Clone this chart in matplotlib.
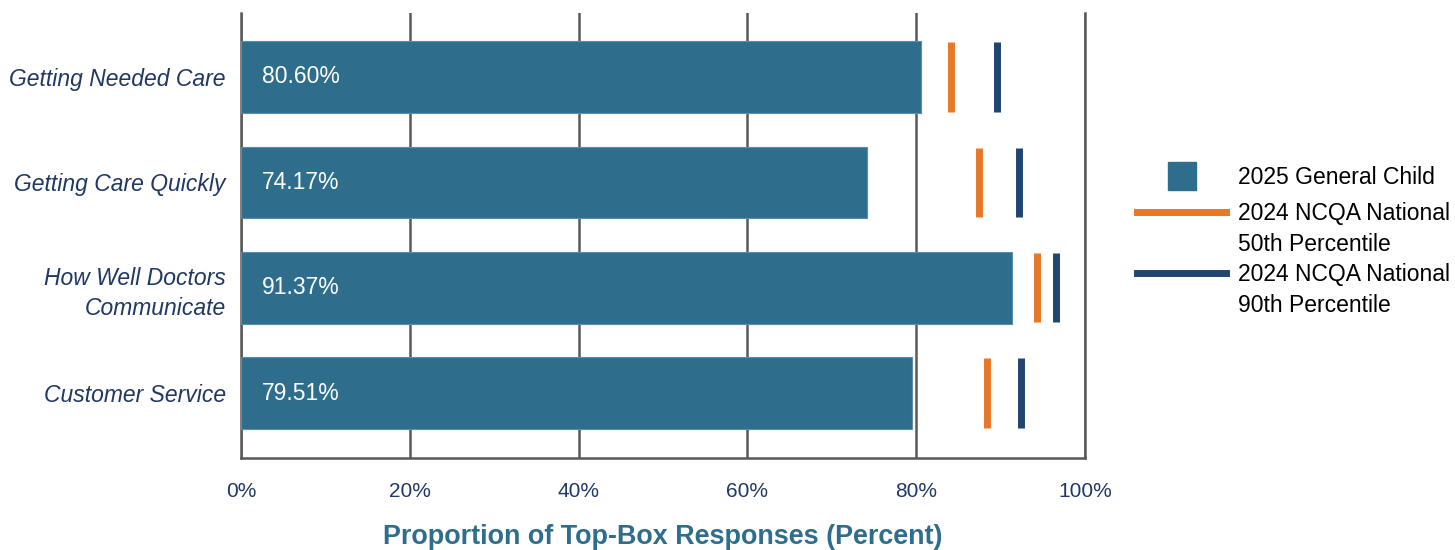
import matplotlib
matplotlib.use("Agg")
import matplotlib.pyplot as plt
from matplotlib.lines import Line2D
import numpy as np

plt.rcParams['font.family'] = ['Liberation Sans', 'DejaVu Sans']

# data
categories = ["Getting Needed Care", "Getting Care Quickly",
              "How Well Doctors\nCommunicate", "Customer Service"]
child_2025 = [80.60, 74.17, 91.37, 79.51]
ncqa_50th = [84.1, 87.4, 94.3, 88.4]
ncqa_90th = [89.6, 92.2, 96.6, 92.4]
xticks = [0, 20, 40, 60, 80, 100]
legend_labels = ["2025 General Child", "2024 NCQA National\n50th Percentile",
                 "2024 NCQA National\n90th Percentile"]

bar_color = '#2E6E8C'
orange = '#E67828'
navy = '#1F4570'
text_navy = '#1F3864'
grid_color = '#595959'

W, H = 1455, 550
fig = plt.figure(figsize=(W / 100, H / 100), dpi=100)
ax = fig.add_axes([241 / W, 1 - 458 / H, (1085 - 241) / W, 445 / H])

y = np.arange(len(categories))
ax.barh(y, child_2025, height=0.68, color=bar_color, edgecolor='#5A8DB0',
        linewidth=0.8, zorder=3)
for yi, v in zip(y, child_2025):
    ax.text(2.5, yi, f"{v:.2f}%", color='white', fontsize=16.5,
            va='center', ha='left', zorder=4)

ax.vlines(ncqa_50th, y - 0.33, y + 0.33, color=orange, linewidth=5, zorder=4)
ax.vlines(ncqa_90th, y - 0.33, y + 0.33, color=navy, linewidth=5, zorder=4)

ax.set_xlim(0, 100)
ax.set_ylim(3.616, -0.607)
ax.set_xticks(xticks)
ax.set_xticklabels([f"{t}%" for t in xticks], color=text_navy, fontsize=15)
ax.set_yticks(y)
ax.set_yticklabels(categories, fontsize=16.5, style='italic', color=text_navy,
                   ha='right', linespacing=1.35)
ax.tick_params(axis='y', length=0, pad=11)
ax.tick_params(axis='x', length=0, pad=17)
ax.xaxis.grid(True, color=grid_color, linewidth=1.8, zorder=0)
ax.set_axisbelow(True)
ax.spines['top'].set_visible(False)
for s in ['left', 'bottom', 'right']:
    ax.spines[s].set_color(grid_color)
    ax.spines[s].set_linewidth(1.8)

ax.set_xlabel("Proportion of Top-Box Responses (Percent)", fontsize=19.4,
              fontweight='bold', color='#2E6E8C', labelpad=17)

# legend, laid out by hand so the handles sit on the first text line
def fx(px):
    return px / W


def fy(px):
    return 1 - px / H


fig.add_artist(Line2D([fx(1182)], [fy(176)], marker='s', markersize=20,
                      linestyle='none', color=bar_color,
                      transform=fig.transFigure))
fig.add_artist(Line2D([fx(1137), fx(1226)], [fy(212), fy(212)], color=orange,
                      linewidth=5, transform=fig.transFigure))
fig.add_artist(Line2D([fx(1137), fx(1226)], [fy(272.5), fy(272.5)], color=navy,
                      linewidth=5, transform=fig.transFigure))
for lab, ty in zip(legend_labels, [176, 212, 272.5]):
    fig.text(fx(1238), fy(ty - 10), lab, fontsize=16.5, color='black',
             ha='left', va='top', linespacing=1.45,
             transform=fig.transFigure)

fig.savefig("out.png", dpi=100)
